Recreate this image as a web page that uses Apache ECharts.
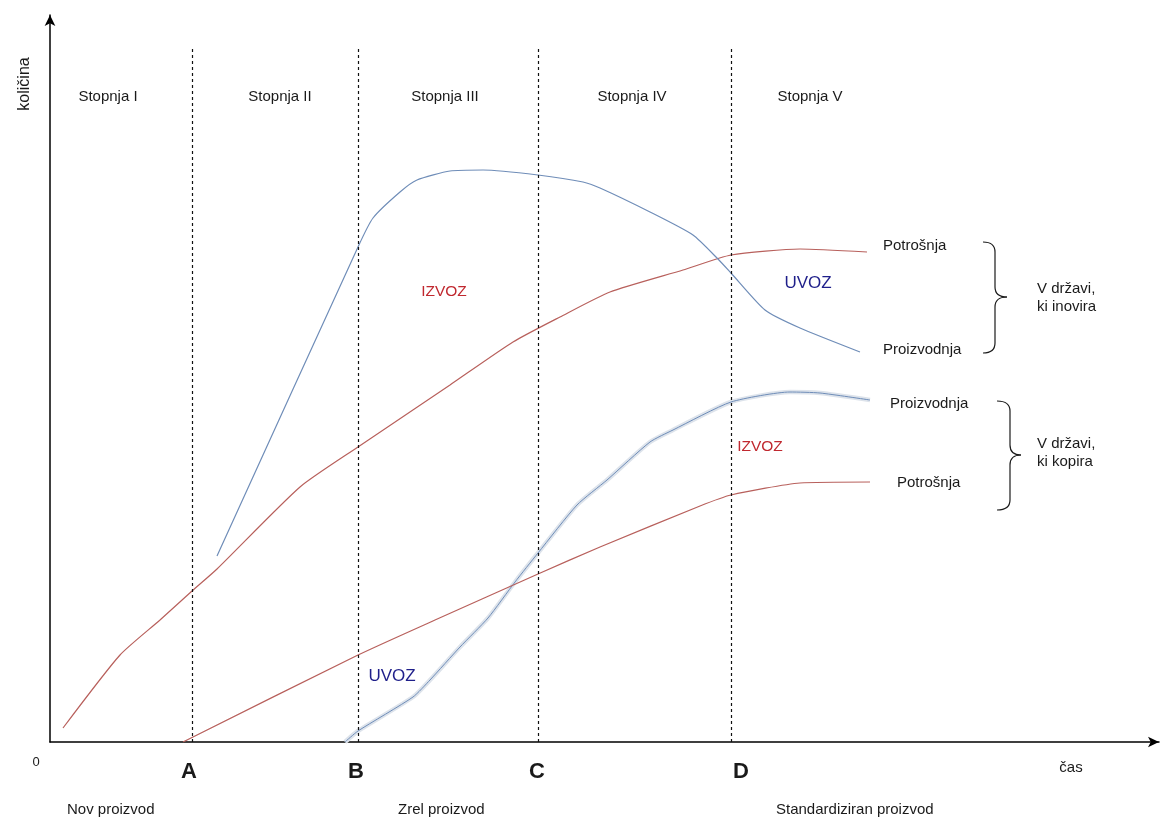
<!DOCTYPE html>
<html>
<head>
<meta charset="utf-8">
<style>
  html, body { margin: 0; padding: 0; background: #fff; }
  #chart { width: 1162px; height: 818px; }
</style>
<script src="https://cdn.jsdelivr.net/npm/echarts@6/dist/echarts.min.js"></script>
</head>
<body>
<div id="chart"></div>
<script>
// x = čas, y = količina (arbitrary units)
const innovConsumption = [[13,14],[70,87],[110,122],[142,151],[167,173],[250,255],[308,295],[400,357],[463,400],[510,425],[560,450],[633,472],[681,487],[750,493],[817,490]]
const innovProduction = [[167,186],[308,495],[323,524],[350,550],[367,562],[400,571],[433,572],[488,567],[533,560],[550,554],[600,530],[643,507],[667,484],[681,469],[715,432],[750,414],[810,390]]
const copyProduction = [[295,0],[308,11],[363,45],[380,62],[410,95],[438,124],[465,160],[488,189],[527,237],[557,262],[600,300],[623,312],[681,340],[740,350],[770,349],[820,342]]
const copyConsumption = [[133,0],[308,87],[385,122],[488,168],[550,195],[650,236],[681,247],[750,259],[820,260]]

const stageBounds = [142, 308, 488, 681]
const stageNames = ['A', 'B', 'C', 'D']
const stageTop = 695

const FONT = '"Liberation Sans", Arial, sans-serif'
const RED = '#b8605c'
const BLUE = '#6f8db8'

const chart = echarts.init(document.getElementById('chart'))

function txt(text, x, y, opts) {
    opts = opts || {}
    return {
        type: 'text',
        x: x, y: y,
        rotation: opts.rotation || 0,
        style: {
            text: text,
            fill: opts.color || '#1a1a1a',
            fontSize: opts.size || 15,
            fontFamily: FONT,
            fontWeight: opts.weight || 'normal',
            textAlign: opts.align || 'center',
            textVerticalAlign: 'middle',
            lineHeight: opts.lh || 18
        }
    }
}

// right curly brace built from lines and quadratic curves
function brace(x0, s, t, y0, m, y1) {
    const r = 10
    const st = { stroke: '#1a1a1a', fill: 'none', lineWidth: 1.2 }
    return [
        { type: 'bezierCurve', shape: { x1: x0, y1: y0, cpx1: s, cpy1: y0, x2: s, y2: y0 + r }, style: st },
        { type: 'line', shape: { x1: s, y1: y0 + r, x2: s, y2: m - r }, style: st },
        { type: 'bezierCurve', shape: { x1: s, y1: m - r, cpx1: s, cpy1: m, x2: t, y2: m }, style: st },
        { type: 'bezierCurve', shape: { x1: t, y1: m, cpx1: s, cpy1: m, x2: s, y2: m + r }, style: st },
        { type: 'line', shape: { x1: s, y1: m + r, x2: s, y2: y1 - r }, style: st },
        { type: 'bezierCurve', shape: { x1: s, y1: y1 - r, cpx1: s, cpy1: y1, x2: x0, y2: y1 }, style: st }
    ]
}

const stageLabelX = [108, 280, 445, 632, 810]
const stageLabels = ['Stopnja I', 'Stopnja II', 'Stopnja III', 'Stopnja IV', 'Stopnja V']
const letterX = [189, 356, 537, 741]

const graphics = [
    txt('količina', 25, 84, { rotation: Math.PI / 2, size: 16 }),
    txt('0', 36, 762, { size: 13 }),
    txt('čas', 1071, 768, { size: 15 }),
    txt('Nov proizvod', 67, 810, { align: 'left' }),
    txt('Zrel proizvod', 398, 810, { align: 'left' }),
    txt('Standardiziran proizvod', 776, 810, { align: 'left' }),
    txt('IZVOZ', 444, 292, { color: '#c0282f', size: 15.5 }),
    txt('UVOZ', 808, 283, { color: '#1f1f8a', size: 17 }),
    txt('UVOZ', 392, 676, { color: '#1f1f8a', size: 17 }),
    txt('IZVOZ', 760, 447, { color: '#c0282f', size: 15.5 }),
    txt('Potrošnja', 883, 246, { align: 'left' }),
    txt('Proizvodnja', 883, 350, { align: 'left' }),
    txt('Proizvodnja', 890, 404, { align: 'left' }),
    txt('Potrošnja', 897, 483, { align: 'left' }),
    txt('V državi,\nki inovira', 1037, 298, { align: 'left' }),
    txt('V državi,\nki kopira', 1037, 453, { align: 'left' })
].concat(brace(983, 995, 1007, 242, 297, 353), brace(997, 1010, 1021, 401, 455, 510))
stageLabels.forEach((s, i) => graphics.push(txt(s, stageLabelX[i], 97)))
stageNames.forEach((s, i) => graphics.push(txt(s, letterX[i], 772, { size: 22, weight: 'bold' })))

const lineSeries = (data, color, width, z) => ({
    type: 'line',
    data: data,
    smooth: 0.2,
    symbol: 'none',
    z: z || 2,
    lineStyle: { color: color, width: width }
})

chart.setOption({
    animation: false,
    grid: { left: 50, top: 15, right: 3, bottom: 76 },
    xAxis: {
        type: 'value', min: 0, max: 1109,
        axisLine: { show: true, onZero: false, symbol: ['none', 'arrow'], symbolSize: [8, 11], lineStyle: { color: '#000', width: 1.5 } },
        axisTick: { show: false }, axisLabel: { show: false }, splitLine: { show: false }
    },
    yAxis: {
        type: 'value', min: 0, max: 727,
        axisLine: { show: true, onZero: false, symbol: ['none', 'arrow'], symbolSize: [8, 11], lineStyle: { color: '#000', width: 1.5 } },
        axisTick: { show: false }, axisLabel: { show: false }, splitLine: { show: false }
    },
    series: [
        lineSeries(innovConsumption, RED, 1.2),
        lineSeries(innovProduction, BLUE, 1.2),
        lineSeries(copyProduction, '#dde3eb', 4.5, 1),
        lineSeries(copyProduction, BLUE, 1),
        lineSeries(copyConsumption, RED, 1.2),
        {
            type: 'line',
            data: [],
            markLine: {
                silent: true,
                symbol: 'none',
                label: { show: false },
                lineStyle: { color: '#111', type: [3, 3], width: 1.2 },
                data: stageBounds.map(x => [{ coord: [x, 0] }, { coord: [x, stageTop] }])
            }
        }
    ],
    graphic: graphics
})
</script>
</body>
</html>
